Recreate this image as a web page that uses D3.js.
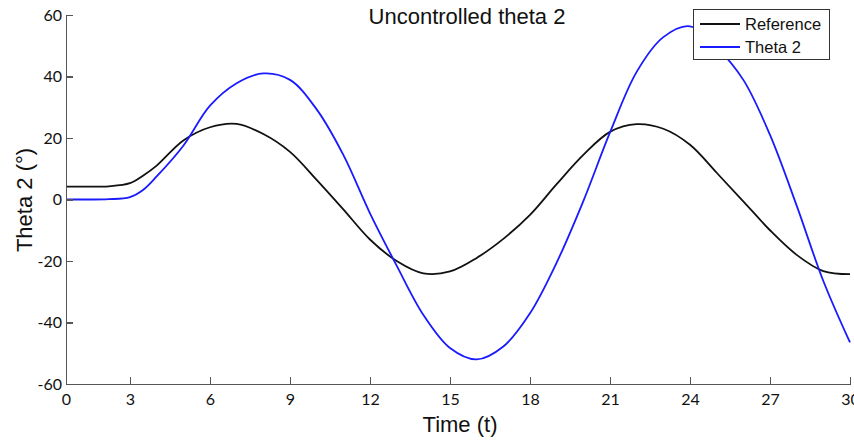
<!DOCTYPE html>
<html>
<head>
<meta charset="utf-8">
<style>
    body { margin: 0; background: #fff; }
    .axis path, .axis line { fill: none; stroke: #555; stroke-width: 1.5px; shape-rendering: crispEdges; }
    .axis text { font-family: Lato, sans-serif; font-size: 16px; fill: #111; }
    .lbl { font-family: "Liberation Sans", Arial, sans-serif; font-size: 22px; fill: #111; }
    .leg text { font-family: "Liberation Sans", Arial, sans-serif; font-size: 16.5px; fill: #111; }
</style>
</head>
<body>
<script src="https://cdnjs.cloudflare.com/ajax/libs/d3/7.8.5/d3.min.js"></script>
<script>

var w = 854, h = 441;

// data
var time      = [0, 1, 2, 3, 3.5, 4, 5, 6, 7, 8, 9, 10, 11, 12, 13, 14, 15, 16, 17, 18, 19, 20, 21, 22, 23, 24, 25, 26, 27, 28, 29, 30];
var reference = [4.2, 4.2, 4.3, 5.3, 7.8, 11, 19.2, 23.5, 24.6, 21.3, 15.5, 6.4, -3.2, -13, -20, -24, -23.4, -19, -12.8, -5, 5, 14.5, 22, 24.5, 23, 17.8, 8.7, -0.6, -10, -18, -23.3, -24.3];
var theta2    = [0, 0, 0.1, 0.8, 3.2, 7.5, 17.5, 30.5, 37.8, 41, 38.9, 29.3, 14.5, -4.5, -21.5, -37.5, -48.3, -52, -47.8, -37, -20.5, -0.5, 21.8, 41.5, 52.8, 56.3, 49.5, 38.9, 21, -2, -26.5, -46.5];
var xTicks = [0, 3, 6, 9, 12, 15, 18, 21, 24, 27, 30];
var yTicks = [-60, -40, -20, 0, 20, 40, 60];
var seriesNames = ["Reference", "Theta 2"];
var seriesColors = ["#111", "#1a1aff"];

var svg = d3.select("body").append("svg")
    .attr("width", w)
    .attr("height", h);

// the first interval of the original axis is squeezed, so the scale is polylinear
var xScale = d3.scaleLinear()
    .domain([0, 3, 30])
    .range([66, 130, 850]);

var yScale = d3.scaleLinear()
    .domain([-60, 60])
    .range([384, 15]);

var line = d3.line()
    .x(function(d) { return xScale(d[0]); })
    .y(function(d) { return yScale(d[1]); })
    .curve(d3.curveCatmullRom);

var series = [reference, theta2].map(function(vals) {
    return vals.map(function(v, i) { return [time[i], v]; });
});

svg.selectAll("path.series")
    .data(series)
    .enter()
    .append("path")
    .attr("class", "series")
    .attr("fill", "none")
    .attr("stroke", function(d, i) { return seriesColors[i]; })
    .attr("stroke-width", 1.8)
    .attr("d", line);

// plain hyphen minus, like the original
var fmt = function(d) { return String(d); };

// axes, ticks pointing inward
svg.append("g")
    .attr("class", "x axis")
    .attr("transform", "translate(0," + yScale(-60) + ")")
    .call(d3.axisBottom(xScale).tickValues(xTicks).tickFormat(fmt).tickSizeInner(-7).tickSizeOuter(0).tickPadding(7))
    .selectAll("text").attr("dy", "0.9em");

svg.append("g")
    .attr("class", "y axis")
    .attr("transform", "translate(" + xScale(0) + ",0)")
    .call(d3.axisLeft(yScale).tickValues(yTicks).tickFormat(fmt).tickSizeInner(-7).tickSizeOuter(0).tickPadding(4));

// title and labels
svg.append("text")
    .attr("class", "lbl")
    .attr("x", 467)
    .attr("y", 24)
    .attr("text-anchor", "middle")
    .text("Uncontrolled theta 2");

svg.append("text")
    .attr("class", "lbl")
    .attr("x", 460)
    .attr("y", 432)
    .attr("text-anchor", "middle")
    .text("Time (t)");

svg.append("text")
    .attr("class", "lbl")
    .attr("transform", "translate(32,200) rotate(-90)")
    .attr("text-anchor", "middle")
    .text("Theta 2 (°)");

// legend
var leg = svg.append("g").attr("class", "leg");
leg.append("rect")
    .attr("x", 693.5)
    .attr("y", 9.5)
    .attr("width", 136)
    .attr("height", 50)
    .attr("fill", "#fff")
    .attr("stroke", "#333")
    .attr("stroke-width", 1);

var items = leg.selectAll("g.item")
    .data(seriesNames)
    .enter()
    .append("g")
    .attr("class", "item")
    .attr("transform", function(d, i) { return "translate(0," + (24 + i * 23) + ")"; });

items.append("line")
    .attr("x1", 700).attr("x2", 740)
    .attr("stroke", function(d, i) { return seriesColors[i]; })
    .attr("stroke-width", 1.8);

items.append("text")
    .attr("x", 745)
    .attr("dy", "0.35em")
    .text(function(d) { return d; });

</script>
</body>
</html>
